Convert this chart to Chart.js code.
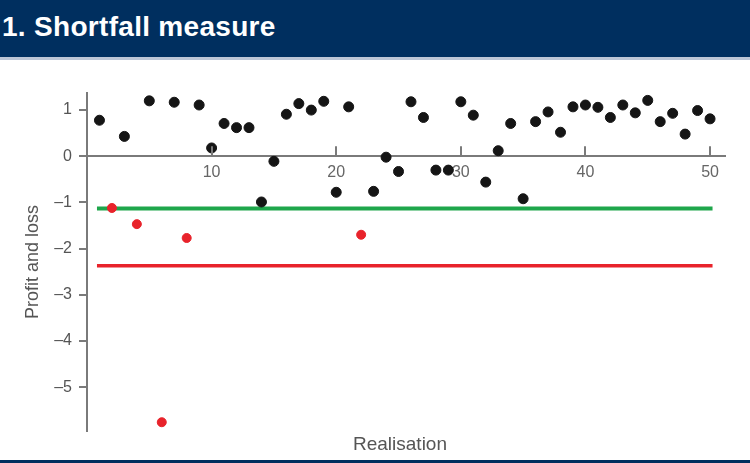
<!DOCTYPE html>
<html>
<head>
<meta charset="utf-8">
<script src="https://cdn.jsdelivr.net/npm/chart.js@4.4.1/dist/chart.umd.min.js"></script>
<style>
    html, body { margin: 0; padding: 0; background: #fff; }
    #wrap { position: relative; width: 750px; height: 463px; overflow: hidden; }
    #header {
        position: absolute; left: 0; top: 0; width: 750px; height: 57px;
        background: #002f5f; border-bottom: 3px solid #bcc6d6;
        color: #fff; font: bold 28px "Liberation Sans", Arial, sans-serif;
        line-height: 54px; padding-left: 2px; letter-spacing: 0.3px;
    }
    #footer { position: absolute; left: 0; top: 460px; width: 750px; height: 3px; background: #002f5f; }
    #xtitle {
        position: absolute; left: 0; width: 800px; top: 433px; text-align: center;
        font: 19px "Liberation Sans", Arial, sans-serif; line-height: 22px; color: #555;
    }
    canvas { position: absolute; left: 0; top: 0; }
</style>
</head>
<body>
<div id="wrap">
    <canvas id="chart" width="750" height="463"></canvas>
    <div id="header">1. Shortfall measure</div>
    <div id="xtitle">Realisation</div>
    <div id="footer"></div>
</div>
<script>
// Realisations and their profit and loss
const realisations = [1, 2, 3, 4, 5, 6, 7, 8, 9, 10,
                      11, 12, 13, 14, 15, 16, 17, 18, 19, 20,
                      21, 22, 23, 24, 25, 26, 27, 28, 29, 30,
                      31, 32, 33, 34, 35, 36, 37, 38, 39, 40,
                      41, 42, 43, 44, 45, 46, 47, 48, 49, 50];
const pnl = [0.78, -1.12, 0.43, -1.47, 1.20, -5.76, 1.17, -1.77, 1.11, 0.18,
             0.71, 0.62, 0.62, -0.99, -0.11, 0.91, 1.14, 1.00, 1.19, -0.78,
             1.07, -1.70, -0.76, -0.02, -0.33, 1.18, 0.84, -0.30, -0.30, 1.18,
             0.89, -0.56, 0.12, 0.71, -0.92, 0.75, 0.96, 0.52, 1.07, 1.11,
             1.06, 0.84, 1.11, 0.94, 1.21, 0.75, 0.93, 0.48, 0.99, 0.81];
// realisations in the tail (beyond VaR)
const tailRealisations = [2, 4, 6, 8, 22];

const VAR_LEVEL = -1.13;
const SHORTFALL_LEVEL = -2.37;
const lineSpan = [0.8, 50.2];

const yTicks = [1, 0, -1, -2, -3, -4, -5];
const xTicks = [10, 20, 30, 40, 50];

const FONT = '"Liberation Sans", Arial, sans-serif';
const AXIS_GREY = '#7a7a7a';

const normalPts = [];
const tailPts = [];
realisations.forEach((r, i) => {
    const p = { x: r, y: pnl[i] };
    if (tailRealisations.includes(r)) tailPts.push(p); else normalPts.push(p);
});

// upward tick marks on the x axis (sitting on the zero line)
const upTicks = {
    id: 'upTicks',
    afterDraw(chart) {
        const xs = chart.scales.x, ys = chart.scales.y;
        const ctx = chart.ctx;
        const y0 = ys.getPixelForValue(0);
        ctx.save();
        ctx.strokeStyle = AXIS_GREY;
        ctx.lineWidth = 2;
        xTicks.forEach(t => {
            const px = Math.round(xs.getPixelForValue(t));
            ctx.beginPath();
            ctx.moveTo(px, y0);
            ctx.lineTo(px, y0 - 10);
            ctx.stroke();
        });
        ctx.restore();
    }
};

new Chart(document.getElementById('chart'), {
    type: 'scatter',
    data: {
        datasets: [
            {
                label: 'P&L',
                data: normalPts,
                backgroundColor: '#151515',
                borderColor: '#151515',
                pointRadius: 5,
                order: 0,
            },
            {
                label: 'Tail',
                data: tailPts,
                backgroundColor: '#e8232b',
                borderColor: '#e8232b',
                pointRadius: 4.5,
                order: 0,
            },
            {
                label: 'VaR',
                type: 'line',
                data: lineSpan.map(x => ({ x, y: VAR_LEVEL })),
                borderColor: '#1ea64b',
                borderWidth: 4,
                pointRadius: 0,
                order: 1,
            },
            {
                label: 'Expected shortfall',
                type: 'line',
                data: lineSpan.map(x => ({ x, y: SHORTFALL_LEVEL })),
                borderColor: '#e8232b',
                borderWidth: 3.5,
                pointRadius: 0,
                order: 1,
            }
        ]
    },
    options: {
        responsive: false,
        animation: false,
        layout: { padding: { left: 20, right: 25, top: 93, bottom: 32 } },
        plugins: { legend: { display: false }, tooltip: { enabled: false } },
        scales: {
            x: {
                type: 'linear',
                position: { y: 0 },
                min: 0,
                max: 51.2,
                afterBuildTicks: s => { s.ticks = xTicks.map(v => ({ value: v })); },
                afterFit: s => { s.height = 0; },
                grid: { display: false, drawTicks: false },
                border: { display: true, color: AXIS_GREY, width: 2 },
                ticks: { padding: 7, color: '#666', font: { family: FONT, size: 16 } },
            },
            y: {
                min: -5.95,
                max: 1.37,
                afterBuildTicks: s => { s.ticks = yTicks.map(v => ({ value: v })); },
                afterFit: s => { s.width = 67; },
                grid: { drawOnChartArea: false, tickLength: 8, color: AXIS_GREY, lineWidth: 2 },
                border: { display: true, color: AXIS_GREY, width: 2 },
                ticks: {
                    padding: 7,
                    color: '#555',
                    font: { family: FONT, size: 16 },
                    callback: v => v < 0 ? '\u2013' + Math.abs(v) : String(v),
                },
                title: {
                    display: true,
                    text: 'Profit and loss',
                    color: '#555',
                    padding: { top: 2, bottom: 4 },
                    font: { family: FONT, size: 18 },
                },
            }
        }
    },
    plugins: [upTicks]
});
</script>
</body>
</html>
